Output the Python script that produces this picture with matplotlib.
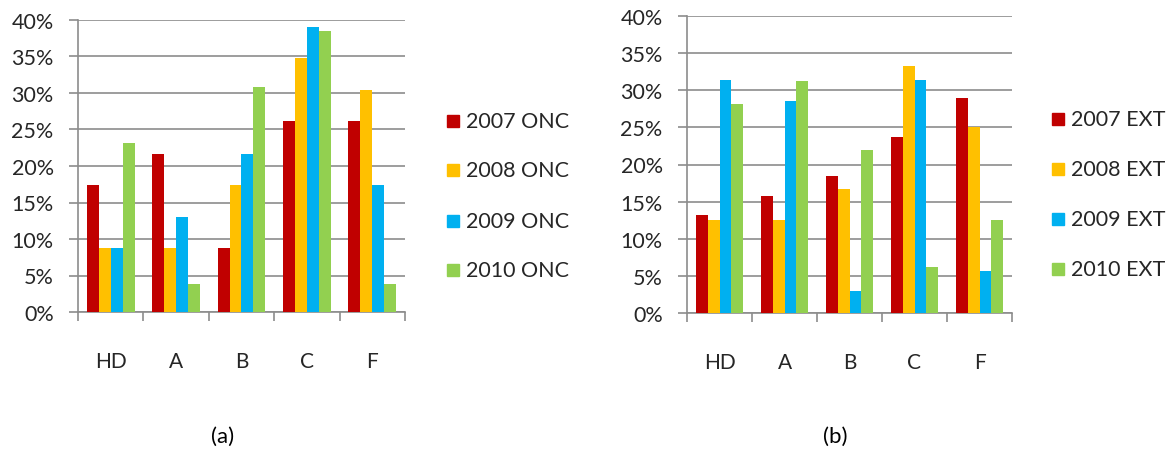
import matplotlib
matplotlib.use("Agg")
import matplotlib.pyplot as plt
import numpy as np
from matplotlib.patches import Rectangle

categories = ["HD", "A", "B", "C", "F"]
onc_labels = ["2007 ONC", "2008 ONC", "2009 ONC", "2010 ONC"]
ext_labels = ["2007 EXT", "2008 EXT", "2009 EXT", "2010 EXT"]
onc_2007 = [17.4, 21.7, 8.7, 26.1, 26.1]
onc_2008 = [8.7, 8.7, 17.4, 34.8, 30.4]
onc_2009 = [8.7, 13.0, 21.7, 39.1, 17.4]
onc_2010 = [23.1, 3.8, 30.8, 38.5, 3.8]
ext_2007 = [13.2, 15.8, 18.4, 23.7, 28.9]
ext_2008 = [12.5, 12.5, 16.7, 33.3, 25.0]
ext_2009 = [31.4, 28.6, 2.9, 31.4, 5.7]
ext_2010 = [28.1, 31.2, 21.9, 6.2, 12.5]
yticks = [0, 5, 10, 15, 20, 25, 30, 35, 40]
panel_labels = ["(a)", "(b)"]

colors = ["#C00000", "#FFC000", "#00B0F0", "#92D050"]
grid_c = "#8C8C8C"
text_c = "#262626"
FONT = ["Lato", "DejaVu Sans"]
plt.rcParams['font.family'] = FONT

W, H = 1168, 452
fig = plt.figure(figsize=(W / 100, H / 100), dpi=100)


def px_axes(x0, y0, x1, y1):
    return fig.add_axes([x0 / W, 1 - y1 / H, (x1 - x0) / W, (y1 - y0) / H])


def draw(ax, series, labels, leg_x, leg_ys):
    n = len(categories)
    x = np.arange(n)
    bw = 0.183
    for i, vals in enumerate(series):
        ax.bar(x + (i - 1.5) * bw, vals, width=bw, color=colors[i], zorder=3)
    ax.set_xlim(-0.5, n - 0.5)
    ax.set_ylim(0, 40)
    ax.set_yticks(yticks)
    ax.set_yticklabels([f"{v}%" for v in yticks], fontsize=15.5, color=text_c)
    ax.yaxis.grid(True, color=grid_c, linewidth=1.2, zorder=0)
    ax.set_xticks(x)
    ax.set_xticklabels(categories, fontsize=15, color=text_c)
    ax.set_xticks(np.arange(-0.5, n, 1.0), minor=True)
    ax.tick_params(axis='x', which='major', length=0, pad=28)
    ax.tick_params(axis='x', which='minor', length=6.5, width=1.2, color=grid_c, direction='out')
    ax.tick_params(axis='y', length=6.5, width=1.2, color=grid_c, direction='out', pad=11)
    for s in ["top", "right"]:
        ax.spines[s].set_visible(False)
    for s in ["left", "bottom"]:
        ax.spines[s].set_color(grid_c)
        ax.spines[s].set_linewidth(1.2)
    for i, lab in enumerate(labels):
        y = leg_ys[i]
        fig.patches.append(Rectangle(((leg_x) / W, 1 - (y + 6) / H), 12 / W, 12 / H,
                                     transform=fig.transFigure, color=colors[i]))
        fig.text((leg_x + 19) / W, 1 - y / H, lab, fontsize=15.5, color=text_c,
                 va='center', ha='left')


ax1 = px_axes(78, 21, 405, 313)
draw(ax1, [onc_2007, onc_2008, onc_2009, onc_2010], onc_labels, 447, [122, 171, 222, 271])
ax2 = px_axes(687, 17, 1012, 314)
draw(ax2, [ext_2007, ext_2008, ext_2009, ext_2010], ext_labels, 1052, [120, 170, 220, 270])

fig.text(223 / W, 1 - 437 / H, panel_labels[0], fontsize=16, color="black", ha='center', va='center')
fig.text(835 / W, 1 - 437 / H, panel_labels[1], fontsize=16, color="black", ha='center', va='center')

fig.savefig("out.png", dpi=100, facecolor="white")
